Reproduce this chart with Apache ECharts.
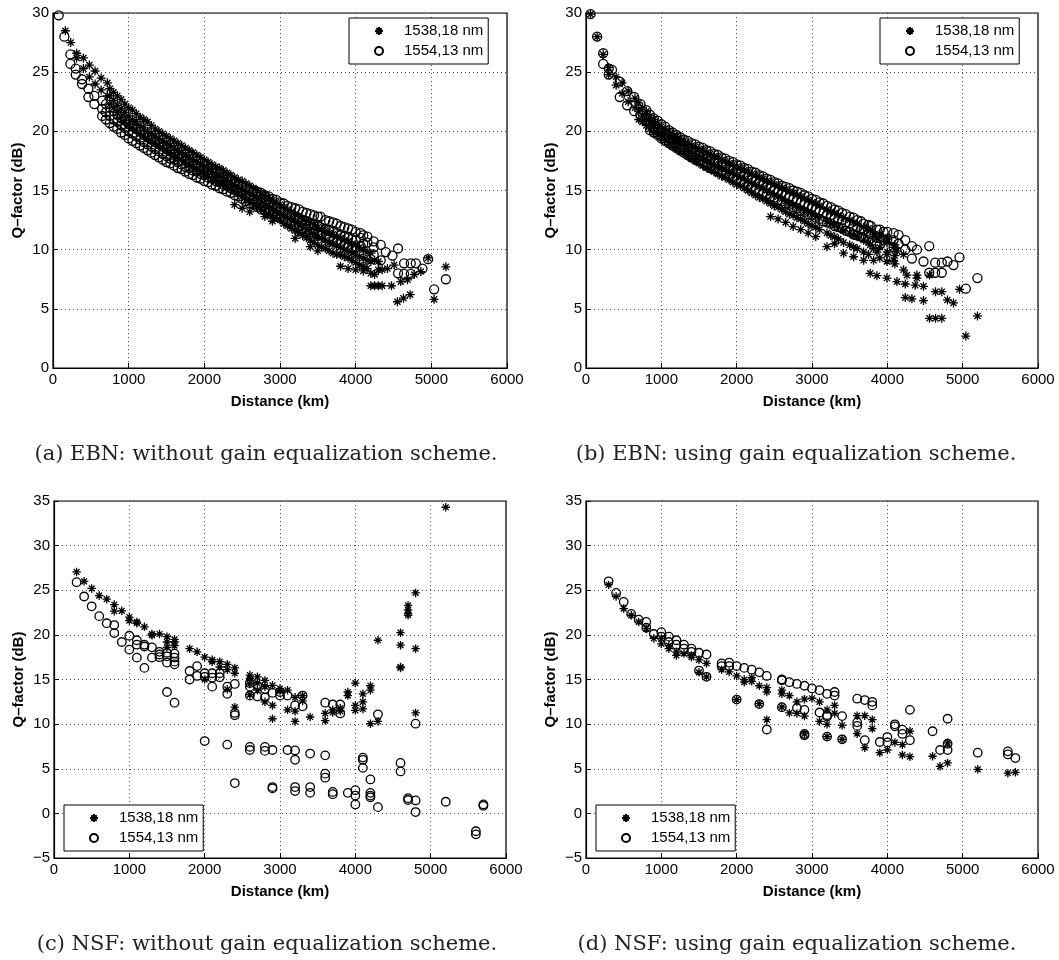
<!DOCTYPE html>
<html>
<head>
<meta charset="utf-8">
<script src="https://cdn.jsdelivr.net/npm/echarts@6/dist/echarts.min.js"></script>
<style>
html,body{margin:0;padding:0;background:#fff;}
#chart{width:1059px;height:960px;}
</style>
</head>
<body>
<div id="chart"></div>
<script>
// ---- tick values ----
const xTickValues = [0, 1000, 2000, 3000, 4000, 5000, 6000];
const yTickValuesTop = [0, 5, 10, 15, 20, 25, 30];
const yTickValuesBottom = [-5, 0, 5, 10, 15, 20, 25, 30, 35];

const seriesNames = ['1538,18 nm', '1554,13 nm'];
const captions = [
  '(a) EBN: without gain equalization scheme.',
  '(b) EBN: using gain equalization scheme.',
  '(c) NSF: without gain equalization scheme.',
  '(d) NSF: using gain equalization scheme.'
];

// ---- data rows: [distance, Q values at that distance...] ----
// (a) EBN without equalization
const ebnNoEq1538 = [
  [163, 28.5], [234, 27.5], [313, 26.6, 26.2], [402, 26.2, 25.3], [481, 25.6, 24.6],
  [556, 25.1, 24.0], [636, 24.5, 23.5], [719, 24.1, 23.0], [800, 23.3, 22.6, 22.0],
  [900, 22.7, 21.9, 21.2], [1000, 22.0, 21.3, 20.6], [1100, 21.5, 20.8, 20.1],
  [1200, 21.0, 20.3, 19.6], [1300, 20.5, 19.8, 19.2], [1400, 20.0, 19.4, 18.8],
  [1500, 19.6, 19.0, 18.4], [1600, 19.2, 18.6, 18.0], [1700, 18.8, 18.2, 17.6],
  [1800, 18.4, 17.8, 17.2], [1900, 18.0, 17.4, 16.8], [2000, 17.6, 17.0, 16.4],
  [2100, 17.2, 16.6, 16.0], [2200, 16.9, 16.3, 15.7], [2300, 16.5, 15.9, 15.3],
  [2400, 16.1, 15.5, 14.9, 13.8], [2500, 15.8, 15.1, 14.5, 13.5], [2600, 15.4, 14.7, 14.0, 13.2],
  [2700, 15.0, 14.3, 13.6], [2800, 14.6, 13.9, 13.2, 12.8], [2900, 14.2, 13.5, 12.9, 12.4],
  [3000, 13.8, 13.1, 12.5], [3100, 13.4, 12.7, 12.0], [3200, 13.0, 12.3, 11.6, 10.95],
  [3300, 12.6, 11.9, 11.2], [3400, 12.3, 11.5, 10.8, 10.25], [3500, 11.9, 11.1, 10.4, 9.9],
  [3600, 11.6, 10.8, 10.1], [3700, 11.3, 10.5, 9.7], [3800, 11.0, 10.2, 9.6, 8.6],
  [3900, 10.7, 9.9, 9.3, 8.4], [4000, 10.4, 9.6, 8.9, 8.3], [4100, 10.0, 9.3, 8.6, 8.2],
  [4200, 9.7, 9.0, 8.0, 6.95], [4250, 9.1, 7.9, 6.95], [4300, 9.0, 8.3, 6.95], [4350, 8.3, 6.95],
  [4420, 8.4], [4473, 6.95], [4508, 8.7], [4552, 5.6], [4596, 7.3], [4632, 5.9], [4685, 7.45],
  [4720, 6.2], [4775, 7.9], [4861, 8.15], [4958, 9.3], [5037, 5.8], [5192, 8.55],
  [750, 23.6, 23.0, 22.3], [850, 23.0, 22.2, 21.6], [950, 22.3, 21.6, 20.9], [1050, 21.8, 21.0, 20.3],
  [1150, 21.2, 20.5, 19.8], [1250, 20.8, 20.0, 19.4], [1350, 20.2, 19.6, 19.0], [1450, 19.8, 19.2, 18.6],
  [1550, 19.4, 18.8, 18.2], [1650, 19.0, 18.4, 17.8], [1750, 18.6, 18.0, 17.4], [1850, 18.2, 17.6, 17.0],
  [1950, 17.8, 17.2, 16.6], [2050, 17.4, 16.8, 16.2], [2150, 17.0, 16.4, 15.8], [2250, 16.7, 16.1, 15.5],
  [2350, 16.3, 15.7, 15.1], [2450, 15.9, 15.3, 14.7], [2550, 15.6, 14.9, 14.2], [2650, 15.2, 14.5, 13.8],
  [2750, 14.8, 14.1, 13.4], [2850, 14.4, 13.7, 13.0], [2950, 14.0, 13.3, 12.7], [3050, 13.6, 12.9, 12.2],
  [3150, 13.2, 12.5, 11.8], [3250, 12.8, 12.1, 11.4], [3350, 12.4, 11.7, 11.0], [3450, 12.1, 11.3, 10.6],
  [3550, 11.7, 11.0, 10.2], [3650, 11.4, 10.6, 9.9], [3750, 11.1, 10.3, 9.6], [3850, 10.8, 10.0, 9.4],
  [3950, 10.5, 9.7, 9.1], [4050, 10.2, 9.4, 8.7], [4150, 9.8, 9.1, 8.4]
];
const ebnNoEq1554 = [
  [75, 29.8], [150, 28.0], [230, 26.5, 25.7], [300, 25.3, 24.8], [384, 24.4, 24.0],
  [468, 23.6, 22.9], [547, 23.0, 22.3], [650, 22.6, 21.9, 21.3], [750, 22.0, 21.3, 20.7],
  [850, 21.4, 20.8, 20.2], [950, 20.9, 20.3, 19.7], [1050, 20.4, 19.8, 19.2],
  [1150, 20.0, 19.3, 18.8], [1250, 19.5, 18.9, 18.4], [1350, 19.1, 18.5, 18.0],
  [1450, 18.7, 18.1, 17.6], [1550, 18.3, 17.7, 17.3], [1650, 17.9, 17.4, 16.9],
  [1750, 17.6, 17.0, 16.6], [1850, 17.3, 16.7, 16.3], [1950, 17.0, 16.4, 16.0],
  [2050, 16.7, 16.1, 15.7], [2150, 16.4, 15.8, 15.4], [2250, 16.1, 15.5, 15.1],
  [2350, 15.8, 15.2, 14.8], [2450, 15.5, 14.9, 14.5], [2550, 15.3, 14.6, 14.1],
  [2650, 15.0, 14.3, 13.8], [2750, 14.8, 14.0, 13.4], [2850, 14.5, 13.8, 13.1],
  [2950, 14.2, 13.5, 12.8], [3050, 13.9, 13.2, 12.6], [3150, 13.6, 12.9, 12.3],
  [3250, 13.4, 12.6, 12.0], [3350, 13.1, 12.4, 11.7], [3450, 12.9, 12.1, 11.4],
  [3536, 12.8, 11.9, 11.2], [3650, 12.4, 11.6, 10.9], [3750, 12.2, 11.4, 10.6],
  [3850, 11.9, 11.1, 10.4], [3950, 11.7, 10.9, 10.1], [4066, 11.4, 11.0, 10.3],
  [4155, 11.1, 10.6], [4238, 10.7, 10.2, 9.6], [4331, 10.4, 9.1], [4397, 9.8], [4486, 9.5],
  [4560, 10.1, 8.0], [4640, 8.85, 7.95], [4728, 8.85, 7.95], [4795, 8.85], [4883, 8.4],
  [4958, 9.2], [5037, 6.65], [5192, 7.5],
  [700, 22.3, 21.6, 21.0], [800, 21.7, 21.0, 20.4], [900, 21.1, 20.5, 19.9], [1000, 20.6, 20.0, 19.4],
  [1100, 20.2, 19.6, 19.0], [1200, 19.7, 19.1, 18.6], [1300, 19.3, 18.7, 18.2], [1400, 18.9, 18.3, 17.8],
  [1500, 18.5, 17.9, 17.4], [1600, 18.1, 17.6, 17.1], [1700, 17.8, 17.2, 16.8], [1800, 17.4, 16.9, 16.4],
  [1900, 17.1, 16.6, 16.1], [2000, 16.8, 16.3, 15.8], [2100, 16.5, 16.0, 15.5], [2200, 16.2, 15.7, 15.2],
  [2300, 15.9, 15.4, 14.9], [2400, 15.6, 15.1, 14.6], [2500, 15.4, 14.8, 14.3], [2600, 15.1, 14.5, 13.9],
  [2700, 14.9, 14.2, 13.6], [2800, 14.6, 13.9, 13.3], [2900, 14.3, 13.6, 13.0], [3000, 14.0, 13.3, 12.7],
  [3100, 13.7, 13.0, 12.4], [3200, 13.5, 12.8, 12.1], [3300, 13.2, 12.5, 11.8], [3400, 13.0, 12.2, 11.5],
  [3500, 12.8, 12.0, 11.3], [3600, 12.5, 11.7, 11.0], [3700, 12.3, 11.5, 10.7], [3800, 12.0, 11.2, 10.5],
  [3900, 11.8, 11.0, 10.2], [4000, 11.5, 10.8, 10.2], [4100, 11.2, 10.5]
];
// (b) EBN with equalization
const ebnEq1538 = [
  [60, 29.9], [148, 28.0], [228, 26.5], [302, 25.4, 24.8], [400, 24.6, 23.9], [480, 24.1, 23.2],
  [560, 23.4, 22.5], [650, 22.8, 22.0], [750, 22.0, 21.3, 20.8], [850, 21.3, 20.8, 20.2],
  [950, 20.7, 20.2, 19.7], [1050, 20.2, 19.7, 19.2], [1150, 19.8, 19.3, 18.7],
  [1250, 19.4, 18.9, 18.3], [1350, 19.0, 18.5, 17.9], [1450, 18.7, 18.1, 17.5],
  [1550, 18.4, 17.8, 17.1], [1650, 18.1, 17.4, 16.8], [1750, 17.8, 17.1, 16.4],
  [1850, 17.5, 16.8, 16.1], [1950, 17.2, 16.5, 15.7], [2050, 16.9, 16.1, 15.4],
  [2150, 16.6, 15.8, 15.0], [2250, 16.3, 15.5, 14.6], [2350, 16.0, 15.2, 14.3],
  [2450, 15.7, 14.8, 13.9, 12.8], [2550, 15.4, 14.5, 13.6, 12.6], [2650, 15.1, 14.1, 13.2, 12.3],
  [2750, 14.8, 13.8, 12.9, 11.95], [2850, 14.5, 13.5, 12.6, 11.7], [2950, 14.2, 13.2, 12.2, 11.4],
  [3050, 13.9, 12.8, 11.9, 11.1], [3199, 13.4, 12.4, 11.4, 10.25], [3300, 13.1, 12.1, 11.1, 10.5],
  [3419, 12.7, 11.6, 10.6, 9.7], [3552, 12.3, 11.2, 10.2, 9.4], [3685, 11.9, 10.8, 9.8, 9.1],
  [3773, 11.6, 10.4, 8.0], [3818, 11.3, 10.1, 9.1], [3862, 11.0, 9.8, 7.8],
  [3995, 10.6, 9.6, 9.0, 7.6], [4083, 10.2, 9.1], [4128, 9.9, 7.3], [4215, 9.6, 8.3],
  [4238, 7.1, 5.95], [4260, 7.85], [4326, 5.85], [4370, 7.0], [4393, 7.85, 7.6],
  [4480, 6.9, 5.7], [4560, 7.85, 4.2], [4640, 6.45, 4.2], [4723, 6.45, 4.2], [4798, 5.75],
  [4878, 5.5], [4958, 6.65], [5042, 2.7], [5196, 4.4],
  [700, 22.4, 21.7, 21.0], [800, 21.7, 21.0, 20.5], [900, 21.0, 20.5, 19.9], [1000, 20.4, 19.9, 19.4],
  [1100, 20.0, 19.5, 18.9], [1200, 19.6, 19.1, 18.5], [1300, 19.2, 18.7, 18.1], [1400, 18.8, 18.3, 17.7],
  [1500, 18.5, 17.9, 17.3], [1600, 18.2, 17.6, 16.9], [1700, 17.9, 17.2, 16.6], [1800, 17.6, 16.9, 16.2],
  [1900, 17.3, 16.6, 15.9], [2000, 17.0, 16.3, 15.5], [2100, 16.7, 16.0, 15.2], [2200, 16.4, 15.6, 14.8],
  [2300, 16.1, 15.3, 14.4], [2400, 15.8, 15.0, 14.1], [2500, 15.5, 14.6, 13.7], [2600, 15.2, 14.3, 13.4],
  [2700, 14.9, 13.9, 13.0], [2800, 14.6, 13.6, 12.7], [2900, 14.3, 13.3, 12.4], [3000, 14.0, 13.0, 12.0],
  [3100, 13.7, 12.7, 11.7], [3250, 13.2, 12.2, 11.2], [3350, 12.9, 11.9, 10.9], [3500, 12.5, 11.4, 10.4],
  [3600, 12.2, 11.1, 10.1], [3750, 11.8, 10.6, 9.6], [3900, 11.3, 10.2, 9.3], [4000, 10.9, 9.8],
  [4100, 10.4, 9.5, 8.8]
];
const ebnEq1554 = [
  [60, 29.9], [148, 28.0], [228, 26.6, 25.7], [302, 25.3, 24.8], [345, 25.2], [448, 24.2, 22.9],
  [546, 23.4, 22.2], [640, 22.9, 21.7], [723, 22.3, 21.4], [800, 21.8, 20.9],
  [900, 21.1, 20.3, 19.9], [1000, 20.6, 20.0, 19.4], [1100, 20.1, 19.5, 19.0],
  [1200, 19.7, 19.1, 18.6], [1300, 19.3, 18.7, 18.2], [1400, 19.0, 18.3, 17.8],
  [1500, 18.7, 18.0, 17.5], [1600, 18.4, 17.7, 17.1], [1700, 18.1, 17.4, 16.8],
  [1800, 17.8, 17.1, 16.5], [1900, 17.5, 16.8, 16.2], [2000, 17.2, 16.6, 15.9],
  [2100, 16.9, 16.3, 15.6], [2200, 16.6, 16.0, 15.3], [2300, 16.3, 15.7, 15.0],
  [2400, 16.0, 15.4, 14.7], [2500, 15.7, 15.1, 14.4], [2600, 15.4, 14.8, 14.1],
  [2700, 15.2, 14.5, 13.8], [2800, 14.9, 14.2, 13.5], [2900, 14.6, 13.9, 13.2],
  [3000, 14.3, 13.6, 12.9], [3100, 14.0, 13.3, 12.6], [3200, 13.7, 13.0, 12.3],
  [3300, 13.4, 12.7, 12.0], [3400, 13.1, 12.5, 11.8], [3500, 12.8, 12.2, 11.5],
  [3600, 12.5, 11.9, 11.2], [3685, 12.2, 11.6, 11.0], [3780, 12.0, 11.3],
  [3862, 11.7, 11.0, 10.5], [3950, 11.5, 10.8], [4083, 11.4, 10.8, 10.2], [4149, 11.25, 10.5],
  [4238, 10.8, 10.0], [4326, 10.3, 9.25], [4393, 10.0], [4480, 9.0], [4556, 10.3, 8.05],
  [4635, 8.9, 8.05], [4723, 8.9, 8.05], [4798, 9.0], [4878, 8.7], [4958, 9.35],
  [5042, 6.7], [5196, 7.6],
  [850, 21.4, 20.7, 20.1], [950, 20.9, 20.2, 19.7], [1050, 20.4, 19.8, 19.2], [1150, 19.9, 19.3, 18.8],
  [1250, 19.5, 18.9, 18.4], [1350, 19.2, 18.5, 18.0], [1450, 18.9, 18.2, 17.6], [1550, 18.6, 17.9, 17.3],
  [1650, 18.3, 17.6, 16.9], [1750, 18.0, 17.3, 16.6], [1850, 17.7, 17.0, 16.3], [1950, 17.4, 16.7, 16.0],
  [2050, 17.1, 16.4, 15.7], [2150, 16.8, 16.1, 15.4], [2250, 16.5, 15.8, 15.1], [2350, 16.2, 15.5, 14.8],
  [2450, 15.9, 15.2, 14.5], [2550, 15.6, 14.9, 14.2], [2650, 15.3, 14.6, 13.9], [2750, 15.0, 14.3, 13.6],
  [2850, 14.8, 14.0, 13.3], [2950, 14.5, 13.7, 13.0], [3050, 14.2, 13.4, 12.7], [3150, 13.9, 13.1, 12.4],
  [3250, 13.6, 12.9, 12.2], [3350, 13.3, 12.6, 11.9], [3450, 13.0, 12.3, 11.6], [3550, 12.7, 12.0, 11.3],
  [3650, 12.4, 11.7, 11.1], [3750, 12.1, 11.4, 10.8], [3900, 11.7, 11.0, 10.4], [4000, 11.5, 10.9]
];
// (c) NSF without equalization
const nsfNoEq1538 = [
  [300, 27.05], [400, 26.0], [500, 25.2], [600, 24.4], [700, 24.0], [800, 23.4, 22.65],
  [900, 22.7], [1000, 22.0, 21.6], [1100, 21.45, 21.3], [1200, 20.9], [1300, 20.1, 19.95],
  [1400, 20.1], [1500, 19.8, 19.2, 18.6], [1600, 19.5, 19.2, 18.8], [1800, 18.45], [1900, 18.1],
  [2000, 17.5, 15.0], [2100, 17.2, 17.0], [2200, 17.0, 16.4], [2300, 16.7, 16.1, 13.9],
  [2400, 16.3, 15.7, 11.9], [2600, 15.5, 15.1, 14.5, 13.3], [2700, 15.3, 14.6, 13.8],
  [2800, 14.9, 14.2, 12.5], [2900, 14.35, 12.1, 10.6], [3000, 13.98, 13.7], [3100, 13.8, 11.6],
  [3200, 13.0, 11.45, 10.3], [3300, 13.2, 12.6], [3400, 10.8], [3600, 11.2, 10.4],
  [3700, 11.6, 11.3], [3800, 11.8, 11.45], [3900, 13.6, 13.2], [4000, 14.6, 12.1, 11.55],
  [4100, 13.4, 12.5, 11.7], [4200, 14.3, 13.8, 10.05], [4300, 19.4, 10.3],
  [4600, 20.25, 18.85, 16.4, 16.3], [4700, 23.3, 22.8, 22.4, 22.2], [4800, 24.7, 18.45, 11.25],
  [5200, 34.3]
];
const nsfNoEq1554 = [
  [300, 25.9], [400, 24.3], [500, 23.2], [600, 22.1], [700, 21.3], [800, 21.1, 20.2], [900, 19.2],
  [1000, 19.9, 18.35], [1100, 19.4, 18.9, 17.45], [1200, 18.9, 18.7, 16.3], [1300, 18.6, 17.45],
  [1400, 18.1, 17.8, 17.5], [1500, 18.0, 17.6, 16.9, 13.6], [1600, 17.9, 17.45, 17.0, 16.7, 12.4],
  [1800, 15.95, 15.0], [1900, 16.5, 15.4], [2000, 15.7, 15.3, 8.1], [2100, 15.7, 15.2, 14.2],
  [2200, 15.7, 15.25], [2300, 14.2, 13.4, 7.7], [2400, 14.5, 11.25, 11.0, 3.4],
  [2600, 14.6, 14.2, 13.2, 7.45, 7.1], [2700, 14.3, 13.1], [2800, 13.9, 13.0, 7.45, 7.0],
  [2900, 13.5, 7.1, 2.95, 2.8], [3000, 13.6, 13.2], [3100, 13.2, 7.1],
  [3200, 12.1, 7.05, 6.0, 2.95, 2.5], [3300, 13.2, 12.0], [3400, 6.7, 2.95, 2.3],
  [3600, 12.4, 6.5, 4.45, 4.0], [3700, 12.2, 2.4, 2.15], [3800, 12.2, 11.2], [3900, 2.3],
  [4000, 2.6, 2.0, 1.0], [4100, 6.25, 6.0, 5.1], [4200, 3.8, 2.3, 2.0, 1.8], [4300, 11.1, 0.7],
  [4600, 5.65, 4.7], [4700, 1.7, 1.5], [4800, 10.05, 1.45, 0.15], [5200, 1.3],
  [5600, -2.0, -2.35], [5700, 1.0, 0.85]
];
// (d) NSF with equalization
const nsfEq1538 = [
  [300, 25.6], [400, 24.3], [500, 22.95], [600, 22.2], [700, 21.45], [800, 20.7], [900, 19.6],
  [1000, 19.6, 19.0], [1100, 18.8, 18.45], [1200, 18.1, 17.7], [1300, 17.9], [1400, 17.7, 17.5],
  [1500, 17.2, 15.8], [1600, 16.8, 15.3], [1800, 16.1], [1900, 15.85], [2000, 15.4, 12.75],
  [2100, 15.0, 14.7], [2200, 15.2, 14.8], [2300, 14.3, 12.3], [2400, 14.1, 13.6, 10.5],
  [2600, 13.8, 13.4, 11.9], [2700, 13.2, 11.25], [2800, 12.5, 11.2], [2900, 12.8, 10.9, 8.9],
  [3000, 12.9], [3100, 12.5, 10.3], [3200, 11.6, 9.98, 8.6], [3300, 12.1, 11.2], [3400, 9.87, 8.3],
  [3600, 10.95, 8.93], [3700, 10.95, 7.36], [3800, 10.5, 9.5], [3900, 6.8], [4000, 7.1],
  [4100, 7.95], [4200, 7.7, 6.55], [4300, 9.22, 6.35], [4600, 6.4], [4700, 5.27],
  [4800, 7.9, 5.65], [5200, 4.93], [5600, 4.5], [5700, 4.6]
];
const nsfEq1554 = [
  [300, 26.0], [400, 24.7], [500, 23.7], [600, 22.35], [700, 21.7], [800, 21.45, 20.8], [900, 20.1],
  [1000, 20.3, 19.8], [1100, 19.8, 19.2], [1200, 19.4, 18.9], [1300, 18.9, 18.45], [1400, 18.45, 18.1],
  [1500, 18.0, 16.0], [1600, 17.8, 15.3], [1800, 16.8, 16.5], [1900, 16.9, 16.5], [2000, 16.5, 12.75],
  [2100, 16.3], [2200, 16.1], [2300, 15.8, 12.25], [2400, 15.4, 9.4], [2600, 15.0, 14.9, 11.9],
  [2700, 14.7], [2800, 14.5, 11.8], [2900, 14.3, 11.6, 8.9, 8.75], [3000, 14.0], [3100, 13.8, 11.3],
  [3200, 13.4, 11.0, 10.85, 8.6], [3300, 13.6, 13.2], [3400, 10.9, 8.3], [3600, 12.85, 10.2, 9.8],
  [3700, 12.7, 8.2], [3800, 12.5, 12.1], [3900, 8.0], [4000, 8.55, 7.95], [4100, 9.98, 9.75],
  [4200, 9.38, 8.9], [4300, 11.6, 8.2], [4600, 9.2], [4700, 7.1], [4800, 10.6, 7.8, 7.1],
  [5200, 6.8], [5600, 6.95, 6.6], [5700, 6.2]
];

function rowsToPoints(rows) {
  const pts = [];
  rows.forEach(r => { for (let i = 1; i < r.length; i++) pts.push([r[0], r[i]]); });
  return pts;
}

const panels = [
  { grid: { left: 53, top: 13, width: 454, height: 355 }, yTicks: yTickValuesTop, size: 9,
    data: [ebnNoEq1538, ebnNoEq1554], legend: { left: 349, top: 18 }, caption: { x: 266, y: 455 } },
  { grid: { left: 586, top: 13, width: 452, height: 355 }, yTicks: yTickValuesTop, size: 9,
    data: [ebnEq1538, ebnEq1554], legend: { left: 880, top: 18 }, caption: { x: 796, y: 455 } },
  { grid: { left: 54, top: 501, width: 452, height: 357 }, yTicks: yTickValuesBottom, size: 8.5,
    data: [nsfNoEq1538, nsfNoEq1554], legend: { left: 64, top: 805 }, caption: { x: 267, y: 945 } },
  { grid: { left: 586, top: 501, width: 452, height: 357 }, yTicks: yTickValuesBottom, size: 8.5,
    data: [nsfEq1538, nsfEq1554], legend: { left: 596, top: 805 }, caption: { x: 797, y: 945 } }
];

const FONT = '"Liberation Sans", Arial, Helvetica, sans-serif';
const starPath = 'path://M0,5L10,5M5,0L5,10M1.6,1.6L8.4,8.4M1.6,8.4L8.4,1.6';
const gridLineStyle = { color: '#444', width: 1, type: [1, 3] };

const option = { animation: false, backgroundColor: '#fff',
  grid: [], xAxis: [], yAxis: [], series: [], legend: [], graphic: [] };

panels.forEach((p, i) => {
  option.grid.push(Object.assign({ show: true, borderColor: '#000', borderWidth: 1.2, backgroundColor: 'transparent' }, p.grid));
  const xStep = xTickValues[1] - xTickValues[0];
  const yStep = p.yTicks[1] - p.yTicks[0];
  option.xAxis.push({
    type: 'value', gridIndex: i, min: xTickValues[0], max: xTickValues[xTickValues.length - 1], interval: xStep,
    name: 'Distance (km)', nameLocation: 'middle', nameGap: 26,
    nameTextStyle: { fontFamily: FONT, fontWeight: 'bold', fontSize: 15, color: '#000' },
    axisLine: { show: true, onZero: false, lineStyle: { color: '#000', width: 1.2 } },
    axisTick: { show: true, inside: true, length: 5, lineStyle: { color: '#000' } },
    axisLabel: { fontFamily: FONT, fontSize: 15, color: '#000', margin: 4, formatter: v => String(v) },
    splitLine: { show: true, lineStyle: gridLineStyle }
  });
  option.yAxis.push({
    type: 'value', gridIndex: i, min: p.yTicks[0], max: p.yTicks[p.yTicks.length - 1], interval: yStep,
    name: 'Q\u2013factor (dB)', nameLocation: 'middle', nameGap: 28,
    nameTextStyle: { fontFamily: FONT, fontWeight: 'bold', fontSize: 15, color: '#000' },
    axisLine: { show: true, onZero: false, lineStyle: { color: '#000', width: 1.2 } },
    axisTick: { show: true, inside: true, length: 5, lineStyle: { color: '#000' } },
    axisLabel: { fontFamily: FONT, fontSize: 15, color: '#000', margin: 4,
      formatter: v => String(v).replace('-', '\u2212') },
    splitLine: { show: true, lineStyle: gridLineStyle }
  });
  option.series.push({
    type: 'scatter', name: seriesNames[0], xAxisIndex: i, yAxisIndex: i,
    data: rowsToPoints(p.data[0]), symbol: starPath, symbolSize: p.size,
    itemStyle: { color: 'rgba(0,0,0,0)', borderColor: '#000', borderWidth: 1.3, opacity: 1 },
    emphasis: { disabled: true }
  });
  option.series.push({
    type: 'scatter', name: seriesNames[1], xAxisIndex: i, yAxisIndex: i,
    data: rowsToPoints(p.data[1]), symbol: 'circle', symbolSize: p.size,
    itemStyle: { color: 'rgba(0,0,0,0)', borderColor: '#000', borderWidth: 1.3, opacity: 1 },
    emphasis: { disabled: true }
  });
  option.legend.push({
    data: seriesNames, left: p.legend.left, top: p.legend.top, orient: 'vertical',
    selectedMode: false, itemWidth: 8, itemHeight: 8, itemGap: 4,
    padding: [5, 5, 5, 25], backgroundColor: '#fff', borderColor: '#000', borderWidth: 1,
    textStyle: { fontFamily: FONT, fontSize: 15, color: '#000', lineHeight: 16, padding: [0, 0, 0, 16] }
  });
  option.graphic.push({
    type: 'text', x: 0, y: 0, silent: true,
    style: { text: captions[i], x: p.caption.x, y: p.caption.y, align: 'center', verticalAlign: 'middle',
      font: '21px "DejaVu Serif", serif', fill: '#222' }
  });
});

const chart = echarts.init(document.getElementById('chart'), null, { renderer: 'canvas' });
chart.setOption(option);
</script>
</body>
</html>
